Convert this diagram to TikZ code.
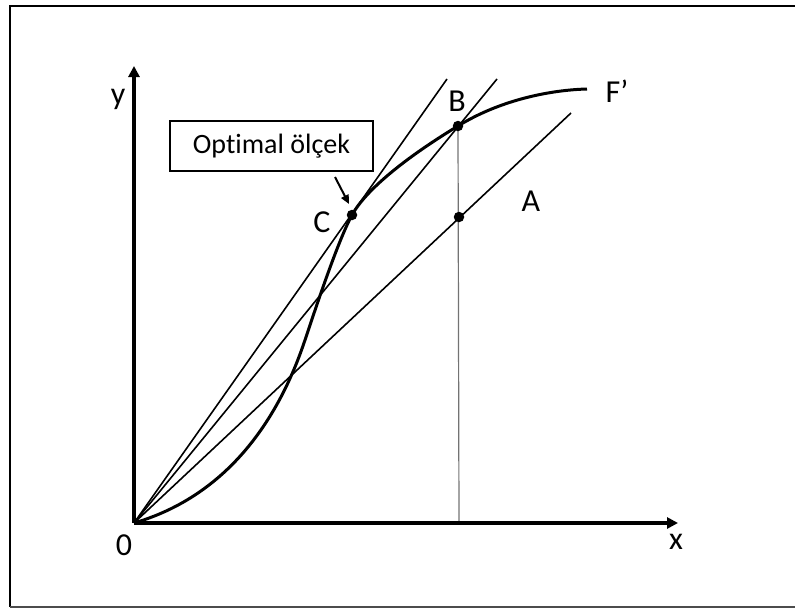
\documentclass[tikz,border=0pt]{standalone}
\usepackage{fontspec}
\setmainfont{Carlito}[Ligatures=NoCommon]
\usetikzlibrary{arrows.meta}
\begin{document}
\begin{tikzpicture}[x=1pt,y=-1pt,
  lbl/.style={font=\fontsize{32}{34}\selectfont, inner sep=0pt},
  thinline/.style={line width=1.6pt},
  axis/.style={line width=3.2pt, -{Triangle[length=11pt,width=11pt]}},
  dot/.style={circle, fill, inner sep=0pt, minimum size=10.5pt},
  boxnode/.style={draw, line width=1.5pt, minimum width=203pt, minimum height=50pt, inner sep=0pt, font=\fontsize{28}{30}\selectfont}]
\useasboundingbox (0,0) rectangle (795,608);
\draw[line width=2pt] (797,6) -- (10,6) -- (10,607);
\draw[line width=2pt, black!70] (10,607) -- (797,607);
% key points
\coordinate (O) at (134,523);
\coordinate (ytop) at (134,66);
\coordinate (xend) at (678,523);
\coordinate (Bp) at (458,126);
\coordinate (Cp) at (352,215);
\coordinate (Ap) at (459,217);
\coordinate (L1) at (447,79);
\coordinate (L2) at (497,79);
\coordinate (L3) at (571,113);
\coordinate (Bfoot) at (459,523);
\coordinate (Ip) at (305,340);
\coordinate (Fend) at (587,89);
% vertical line
\draw[line width=1.2pt, black!55] (Bp) -- (Bfoot);
% rays
\draw[thinline] (O) -- (L1);
\draw[thinline] (O) -- (L2);
\draw[thinline] (O) -- (L3);
% curve
\draw[line width=3pt] (O) .. controls (240,492) and (285,400) .. (Ip)
  .. controls (320,295) and (339,239) .. (Cp)
  .. controls (367,188) and (410,155) .. (Bp)
  .. controls (500,100) and (550,90) .. (Fend);
% axes
\draw[axis] (O) -- (ytop);
\draw[axis] (O) -- (xend);
% dots
\node[dot] (B) at (Bp) {};
\node[dot] (C) at (Cp) {};
\node[dot] (A) at (Ap) {};
% labels
\node[lbl] (ylab) at (118,99) {y};
\node[lbl] (xlab) at (676,542) {x};
\node[lbl] (olab) at (124,545) {0};
\node[lbl] (blab) at (457,101) {B};
\node[lbl] (clab) at (322,222) {C};
\node[lbl] (alab) at (531,201) {A};
\node[lbl] (flab) at (617,91) {F’};
% box
\node[boxnode] (box) at (271.5,146) {Optimal ölçek};
\coordinate (arrS) at (335,177);
\coordinate (arrE) at (349,204);
\draw[line width=2pt, -{Triangle[length=9pt,width=8pt]}] (arrS) -- (arrE);
\end{tikzpicture}
\end{document}
